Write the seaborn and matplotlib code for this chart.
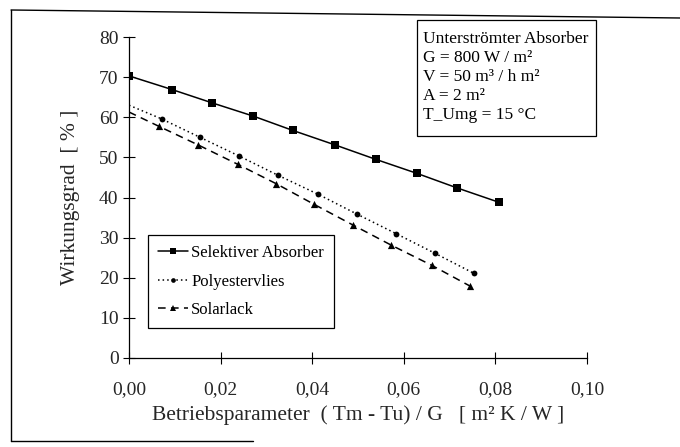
import numpy as np
import pandas as pd
import seaborn as sns
import matplotlib
matplotlib.use("Agg")
import matplotlib.pyplot as plt
from matplotlib.lines import Line2D
from matplotlib.ticker import FixedLocator, FixedFormatter

# ---------------- data ----------------
sel_x = [0.0, 0.0094, 0.0181, 0.0271, 0.0358, 0.0450, 0.0539, 0.0629, 0.0716, 0.0808]
sel_y = [70.3, 66.9, 63.6, 60.3, 56.7, 53.1, 49.5, 46.0, 42.4, 38.8]

poly_x = [0.0, 0.0071, 0.0155, 0.0241, 0.0326, 0.0413, 0.0497, 0.0583, 0.0668, 0.0753]
poly_y = [63.0, 59.6, 55.0, 50.3, 45.5, 40.8, 35.9, 31.0, 26.1, 21.1]

sol_x = [0.0, 0.0066, 0.0151, 0.0237, 0.0322, 0.0404, 0.0488, 0.0573, 0.0661, 0.0745]
sol_y = [61.3, 57.7, 53.1, 48.3, 43.4, 38.3, 33.2, 28.1, 23.1, 17.9]

series_names = ["Selektiver Absorber", "Polyestervlies", "Solarlack"]
x_ticks = [0.0, 0.02, 0.04, 0.06, 0.08, 0.10]
x_tick_labels = ["0,00", "0,02", "0,04", "0,06", "0,08", "0,10"]
y_ticks = [0, 10, 20, 30, 40, 50, 60, 70, 80]
y_tick_labels = ["0", "10", "20", "30", "40", "50", "60", "70", "80"]
info_lines = ["Unterströmter Absorber", "G = 800 W / m²", "V = 50 m³ / h m²",
              "A = 2 m²", "T_Umg = 15 °C"]
x_label = "Betriebsparameter  ( Tm - Tu) / G   [ m² K / W ]"
y_label = "Wirkungsgrad  [ % ]"

# ---------------- style ----------------
sns.set_theme(style="white")
plt.rcParams["font.family"] = ["Liberation Serif", "DejaVu Serif"]
plt.rcParams["text.color"] = "black"

W, H = 680, 447
fig = plt.figure(figsize=(W / 100, H / 100), dpi=100)
fig.patch.set_facecolor("white")

def fx(px):
    return px / W

def fy(py):
    return 1 - py / H

ax = fig.add_axes([fx(129), fy(358), fx(587) - fx(129), fy(37) - fy(358)])
ax.set_facecolor("white")

styles = [
    dict(ls="-", marker="s", ms=5.5, start=0),
    dict(ls=(0, (1, 2)), marker="o", ms=4.2, start=1),
    dict(ls=(0, (5, 3.5)), marker="^", ms=5.2, start=1),
]
xs = [sel_x, poly_x, sol_x]
ys = [sel_y, poly_y, sol_y]

handles = []
for name, x, y, st in zip(series_names, xs, ys, styles):
    df = pd.DataFrame({"x": x, "y": y})
    sns.lineplot(data=df, x="x", y="y", ax=ax, color="black", lw=1.1,
                 linestyle=st["ls"], sort=False, estimator=None)
    dm = df.iloc[st["start"]:]
    sns.scatterplot(data=dm, x="x", y="y", ax=ax, color="black",
                    marker=st["marker"], s=st["ms"] ** 2, edgecolor="black",
                    linewidth=0, zorder=5)
    handles.append(Line2D([], [], color="black", lw=1.1, linestyle=st["ls"],
                          marker=st["marker"], markersize=st["ms"] * 0.8,
                          markeredgewidth=0))

ax.set_xlim(0, 0.10)
ax.set_ylim(0, 80)
for s in ["top", "right"]:
    ax.spines[s].set_visible(False)
for s in ["left", "bottom"]:
    ax.spines[s].set_color("black")
    ax.spines[s].set_linewidth(0.9)

ax.xaxis.set_major_locator(FixedLocator(x_ticks))
ax.xaxis.set_major_formatter(FixedFormatter(x_tick_labels))
ax.yaxis.set_major_locator(FixedLocator(y_ticks))
ax.yaxis.set_major_formatter(FixedFormatter(y_tick_labels))
ax.tick_params(axis="y", direction="inout", length=9, width=0.8, color="black",
               labelsize=14, pad=3, left=True)
ax.tick_params(axis="x", direction="inout", length=8, width=0.8, color="black",
               labelsize=14, pad=12.5, bottom=True)

ax.set_xlabel(x_label, fontsize=15.5)
ax.set_ylabel(y_label, fontsize=15.5)
ax.xaxis.set_label_coords(0.5, -(405 - 358) / 321)
ax.yaxis.set_label_coords((80 - 129) / 458, 0.5)

leg = ax.legend(handles, series_names, loc="upper left",
                bbox_to_anchor=(fx(148), fy(235)), bbox_transform=fig.transFigure,
                frameon=True, fancybox=False, edgecolor="black", framealpha=1,
                fontsize=12, handlelength=1.8, handletextpad=0.2,
                labelspacing=0.75, borderpad=0.6, borderaxespad=0)
leg.get_frame().set_linewidth(0.9)

# info box
ax_box = plt.Rectangle((fx(417), fy(136)), fx(596) - fx(417), fy(20) - fy(136),
                       transform=fig.transFigure, fill=True, facecolor="white",
                       edgecolor="black", lw=0.9, zorder=10)
fig.add_artist(ax_box)
fig.text(fx(423), fy(31), "\n".join(info_lines), ha="left", va="top",
         fontsize=12.5, linespacing=1.26, zorder=11)

# scanned page frame
fig.add_artist(Line2D([fx(11), fx(680)], [fy(10), fy(18)], transform=fig.transFigure,
                      color="black", lw=1.0))
fig.add_artist(Line2D([fx(11), fx(11)], [fy(10), fy(441)], transform=fig.transFigure,
                      color="black", lw=1.0))
fig.add_artist(Line2D([fx(11), fx(253)], [fy(441), fy(441)], transform=fig.transFigure,
                      color="black", lw=1.0))

fig.savefig("out.png", dpi=100, facecolor="white")
